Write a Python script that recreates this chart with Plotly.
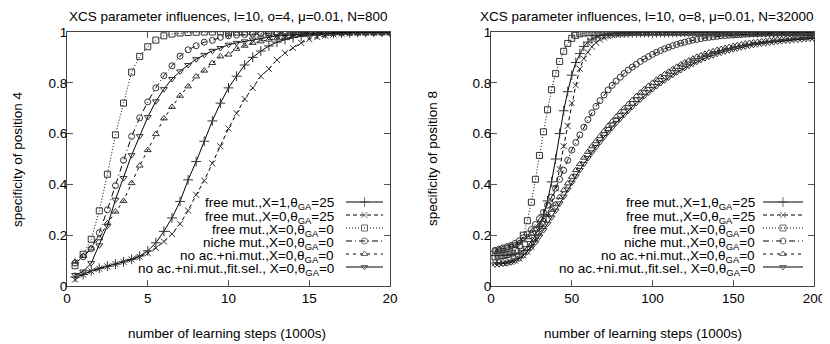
import plotly.graph_objects as go

# ---------------- data ----------------
steps_left = [0.5, 1.0, 1.5, 2.0, 2.5, 3.0, 3.5, 4.0, 4.5, 5.0, 5.5, 6.0, 6.5, 7.0, 7.5, 8.0, 8.5, 9.0, 9.5, 10.0,
              10.5, 11.0, 11.5, 12.0, 12.5, 13.0, 13.5, 14.0, 14.5, 15.0, 15.5, 16.0, 16.5, 17.0, 17.5, 18.0, 18.5, 19.0, 19.5, 20.0]

free_x1_25_L = [0.035, 0.045, 0.06, 0.07, 0.078, 0.086, 0.095, 0.105, 0.118, 0.138, 0.17, 0.215, 0.268, 0.333, 0.418, 0.49, 0.57, 0.65, 0.72, 0.78,
                0.826, 0.87, 0.90, 0.925, 0.945, 0.96, 0.97, 0.978, 0.984, 0.988, 0.991, 0.994, 0.995, 0.996, 0.997, 0.998, 0.998, 0.999, 0.999, 0.999]
free_x0_25_L = [0.025, 0.045, 0.058, 0.068, 0.077, 0.086, 0.095, 0.105, 0.115, 0.13, 0.15, 0.175, 0.205, 0.245, 0.297, 0.359, 0.415, 0.483, 0.55, 0.62,
                0.68, 0.736, 0.78, 0.826, 0.855, 0.89, 0.917, 0.937, 0.957, 0.972, 0.98, 0.985, 0.99, 0.993, 0.995, 0.997, 0.998, 0.998, 0.999, 0.999]
free_x0_0_L = [0.08, 0.125, 0.184, 0.296, 0.44, 0.595, 0.72, 0.842, 0.904, 0.942, 0.968, 0.985, 0.992, 0.996, 0.998, 0.999, 1.0, 1.0, 1.0, 1.0,
               1.0, 1.0, 1.0, 1.0, 1.0, 1.0, 1.0, 1.0, 1.0, 1.0, 1.0, 1.0, 1.0, 1.0, 1.0, 1.0, 1.0, 1.0, 1.0, 1.0]
niche_L = [0.09, 0.115, 0.147, 0.21, 0.30, 0.395, 0.495, 0.589, 0.662, 0.725, 0.78, 0.828, 0.867, 0.905, 0.93, 0.946, 0.96, 0.967, 0.979, 0.985,
           0.988, 0.99, 0.992, 0.994, 0.995, 0.996, 0.997, 0.997, 0.998, 0.998, 0.999, 0.999, 0.999, 0.999, 1.0, 1.0, 1.0, 1.0, 1.0, 1.0]
noac_L = [0.096, 0.118, 0.148, 0.188, 0.247, 0.293, 0.335, 0.405, 0.474, 0.535, 0.598, 0.66, 0.705, 0.749, 0.786, 0.825, 0.848, 0.878, 0.904, 0.911,
          0.934, 0.946, 0.957, 0.963, 0.97, 0.975, 0.98, 0.985, 0.988, 0.99, 0.992, 0.994, 0.995, 0.996, 0.997, 0.998, 0.998, 0.999, 0.999, 0.999]
noac_fit_L = [0.043, 0.057, 0.09, 0.16, 0.237, 0.34, 0.425, 0.515, 0.59, 0.665, 0.727, 0.775, 0.815, 0.845, 0.87, 0.893, 0.91, 0.926, 0.937, 0.95,
              0.957, 0.963, 0.97, 0.975, 0.98, 0.984, 0.987, 0.99, 0.992, 0.994, 0.995, 0.996, 0.997, 0.998, 0.998, 0.999, 0.999, 0.999, 1.0, 1.0]

steps_right = [2.5, 5, 7.5, 10, 12.5, 15, 17.5, 20, 22.5, 25, 27.5, 30, 32.5, 35, 37.5, 40, 42.5, 45, 47.5, 50,
               52.5, 55, 57.5, 60, 62.5, 65, 67.5, 70, 72.5, 75, 77.5, 80, 82.5, 85, 87.5, 90, 92.5, 95, 97.5, 100,
               102.5, 105, 107.5, 110, 112.5, 115, 117.5, 120, 122.5, 125, 127.5, 130, 132.5, 135, 137.5, 140, 142.5, 145, 147.5, 150,
               152.5, 155, 157.5, 160, 162.5, 165, 167.5, 170, 172.5, 175, 177.5, 180, 182.5, 185, 187.5, 190, 192.5, 195, 197.5, 200]

free_x1_25_R = [0.12, 0.12, 0.12, 0.121, 0.122, 0.125, 0.13, 0.14, 0.155, 0.175, 0.2, 0.235, 0.28, 0.335, 0.41, 0.5, 0.6, 0.69, 0.765, 0.83,
                0.88, 0.915, 0.943, 0.96, 0.972, 0.98, 0.986, 0.99, 0.992, 0.994, 0.995, 0.996, 0.996, 0.997, 0.997, 0.997, 0.998, 0.998, 0.998, 0.998,
                0.998, 0.998, 0.998, 0.998, 0.999, 0.999, 0.999, 0.999, 0.999, 0.999, 0.999, 0.999, 0.999, 0.999, 0.999, 0.999, 0.999, 0.999, 0.999, 0.999,
                0.999, 0.999, 0.999, 0.999, 0.999, 0.999, 0.999, 0.999, 0.999, 0.999, 0.999, 0.999, 0.999, 0.999, 0.999, 0.999, 0.999, 0.999, 0.999, 0.999]
free_x0_25_R = [0.09, 0.09, 0.09, 0.092, 0.095, 0.1, 0.108, 0.12, 0.135, 0.155, 0.18, 0.21, 0.24, 0.275, 0.32, 0.385, 0.46, 0.55, 0.63, 0.72,
                0.79, 0.855, 0.895, 0.92, 0.942, 0.958, 0.97, 0.978, 0.984, 0.988, 0.991, 0.993, 0.994, 0.995, 0.996, 0.996, 0.997, 0.997, 0.997, 0.997,
                0.998, 0.998, 0.998, 0.998, 0.998, 0.998, 0.998, 0.998, 0.999, 0.999, 0.999, 0.999, 0.999, 0.999, 0.999, 0.999, 0.999, 0.999, 0.999, 0.999,
                0.999, 0.999, 0.999, 0.999, 0.999, 0.999, 0.999, 0.999, 0.999, 0.999, 0.999, 0.999, 0.999, 0.999, 0.999, 0.999, 0.999, 0.999, 0.999, 0.999]
free_x0_0_R = [0.115, 0.118, 0.12, 0.124, 0.13, 0.14, 0.16, 0.2, 0.257, 0.33, 0.42, 0.514, 0.607, 0.694, 0.773, 0.836, 0.884, 0.924, 0.955, 0.975,
               0.987, 0.993, 0.996, 0.997, 0.998, 0.998, 0.999, 0.999, 0.999, 0.999, 0.999, 0.999, 0.999, 0.999, 1.0, 1.0, 1.0, 1.0, 1.0, 1.0,
               1.0, 1.0, 1.0, 1.0, 1.0, 1.0, 1.0, 1.0, 1.0, 1.0, 1.0, 1.0, 1.0, 1.0, 1.0, 1.0, 1.0, 1.0, 1.0, 1.0,
               1.0, 1.0, 1.0, 1.0, 1.0, 1.0, 1.0, 1.0, 1.0, 1.0, 1.0, 1.0, 1.0, 1.0, 1.0, 1.0, 1.0, 1.0, 1.0, 1.0]
niche_R = [0.14, 0.145, 0.15, 0.155, 0.16, 0.168, 0.178, 0.19, 0.205, 0.222, 0.242, 0.265, 0.29, 0.318, 0.35, 0.385, 0.42, 0.455, 0.495, 0.535,
           0.565, 0.595, 0.625, 0.655, 0.682, 0.707, 0.73, 0.752, 0.772, 0.79, 0.807, 0.822, 0.837, 0.85, 0.862, 0.873, 0.884, 0.894, 0.903, 0.912,
           0.92, 0.927, 0.934, 0.94, 0.946, 0.951, 0.956, 0.96, 0.964, 0.968, 0.971, 0.974, 0.977, 0.979, 0.981, 0.983, 0.985, 0.986, 0.987, 0.988,
           0.989, 0.99, 0.991, 0.992, 0.993, 0.993, 0.994, 0.994, 0.995, 0.995, 0.995, 0.996, 0.996, 0.996, 0.997, 0.997, 0.997, 0.997, 0.998, 0.998]
noac_R = [0.14, 0.143, 0.147, 0.151, 0.156, 0.162, 0.17, 0.18, 0.192, 0.206, 0.222, 0.24, 0.26, 0.28, 0.3, 0.322, 0.35, 0.377, 0.404, 0.43,
          0.456, 0.48, 0.505, 0.528, 0.55, 0.57, 0.59, 0.61, 0.63, 0.648, 0.666, 0.684, 0.7, 0.716, 0.732, 0.747, 0.761, 0.775, 0.788, 0.80,
          0.812, 0.823, 0.834, 0.844, 0.854, 0.863, 0.872, 0.88, 0.888, 0.895, 0.902, 0.908, 0.914, 0.919, 0.924, 0.929, 0.933, 0.937, 0.941, 0.945,
          0.948, 0.951, 0.954, 0.957, 0.959, 0.961, 0.963, 0.965, 0.967, 0.969, 0.97, 0.972, 0.973, 0.975, 0.976, 0.977, 0.978, 0.979, 0.98, 0.981]
noac_fit_R = [0.085, 0.086, 0.088, 0.09, 0.094, 0.1, 0.108, 0.12, 0.135, 0.152, 0.172, 0.195, 0.22, 0.245, 0.27, 0.297, 0.325, 0.352, 0.38, 0.407,
              0.432, 0.457, 0.481, 0.504, 0.526, 0.547, 0.567, 0.587, 0.606, 0.624, 0.642, 0.659, 0.675, 0.691, 0.706, 0.721, 0.735, 0.749, 0.762, 0.775,
              0.787, 0.799, 0.81, 0.821, 0.831, 0.841, 0.85, 0.859, 0.867, 0.875, 0.883, 0.89, 0.897, 0.903, 0.909, 0.914, 0.919, 0.924, 0.928, 0.932,
              0.936, 0.94, 0.943, 0.946, 0.949, 0.952, 0.954, 0.956, 0.958, 0.96, 0.962, 0.964, 0.966, 0.967, 0.969, 0.97, 0.971, 0.973, 0.974, 0.975]

series_names = [
    "free mut.,X=1,θ<sub>GA</sub>=25",
    "free mut.,X=0,θ<sub>GA</sub>=25",
    "free mut.,X=0,θ<sub>GA</sub>=0",
    "niche mut.,X=0,θ<sub>GA</sub>=0",
    "no ac.+ni.mut.,X=0,θ<sub>GA</sub>=0",
    "no ac.+ni.mut.,fit.sel., X=0,θ<sub>GA</sub>=0",
]
left_series = [free_x1_25_L, free_x0_25_L, free_x0_0_L, niche_L, noac_L, noac_fit_L]
right_series = [free_x1_25_R, free_x0_25_R, free_x0_0_R, niche_R, noac_R, noac_fit_R]

titles = ["XCS parameter influences, l=10, o=4, μ=0.01, N=800",
          "XCS parameter influences, l=10, o=8, μ=0.01, N=32000"]
ylabels = ["specificity of position 4", "specificity of position 8"]
xlabel = "number of learning steps (1000s)"
y_ticks = [0, 0.2, 0.4, 0.6, 0.8, 1]
y_ticktext = ["0", "0.2", "0.4", "0.6", "0.8", "1"]
x_ticks_left = [0, 5, 10, 15, 20]
x_ticks_right = [0, 50, 100, 150, 200]

# ---------------- styles / geometry ----------------
styles = [
    dict(dash="solid", symbol="cross-thin-open", size=7),
    dict(dash="4px,3px", symbol="x-thin-open", size=6),
    dict(dash="1px,2px", symbol="square-open", size=6),
    dict(dash="6px,3px,1px,3px", symbol="circle-open", size=6),
    dict(dash="3px,4px", symbol="triangle-up-open", size=6),
    dict(dash="solid", symbol="triangle-down-open", size=6),
]
FONT = "Liberation Sans, Arial, Helvetica, sans-serif"
FS = 13.5
OFF = 8                      # page body margin
W, H = 830 - OFF, 344 - OFF  # figure size so that page pixels match the reference
def px(v):                   # page pixel -> figure pixel
    return v - OFF
PL = (px(67), px(390))
PR = (px(491), px(814))
PT, PB = px(32), px(286)
PWL = PL[1] - PL[0]
PWR = PR[1] - PR[0]

fig = go.Figure()

def add_series(xs, ys_list, xa, ya):
    for ys, st, nm in zip(ys_list, styles, series_names):
        fig.add_trace(go.Scatter(
            x=xs, y=ys, xaxis=xa, yaxis=ya, mode="lines+markers", name=nm, showlegend=False,
            line=dict(color="#000", width=1, dash=st["dash"]),
            marker=dict(symbol=st["symbol"], size=st["size"], color="#333",
                        line=dict(color="#333", width=1)),
            hoverinfo="skip"))

add_series(steps_left, left_series, "x", "y")
add_series(steps_right, right_series, "x2", "y2")

# legend keys (drawn on hidden overlay axes spanning 0..1 of the plot area)
row_px = [px(202 + 13.0 * i) for i in range(6)]
def add_legend(xa, ya, x0, x1, xref, yref, text_x):
    for i, (st, nm) in enumerate(zip(styles, series_names)):
        r = (PB - row_px[i]) / (PB - PT)
        fig.add_trace(go.Scatter(
            x=[x0, (x0 + x1) / 2, x1], y=[r, r, r], xaxis=xa, yaxis=ya,
            mode="lines+markers", showlegend=False, hoverinfo="skip",
            line=dict(color="#000", width=1, dash=st["dash"]),
            marker=dict(symbol=st["symbol"], size=[0, st["size"], 0], color="#333",
                        line=dict(color="#333", width=1))))
        fig.add_annotation(x=text_x, y=r, xref=xref, yref=yref, text=nm, showarrow=False,
                           xanchor="right", yanchor="middle", yshift=-2,
                           font=dict(family=FONT, size=FS, color="#000"))

add_legend("x3", "y3", (px(346) - PL[0]) / PWL, (px(383) - PL[0]) / PWL, "x domain", "y domain",
           (px(336) - PL[0]) / PWL)
add_legend("x4", "y4", (px(763) - PR[0]) / PWR, (px(803) - PR[0]) / PWR, "x2 domain", "y2 domain",
           (px(757) - PR[0]) / PWR)

axis_common = dict(showgrid=False, zeroline=False, showline=True, linecolor="#444", linewidth=1,
                   mirror="allticks", ticks="inside", ticklen=6, tickcolor="#555", tickwidth=1,
                   tickfont=dict(family=FONT, size=FS, color="#000"), automargin=False)
ydom = [(H - PB) / H, (H - PT) / H]
fig.update_layout(
    width=W, height=H, margin=dict(l=0, r=0, t=0, b=0),
    paper_bgcolor="white", plot_bgcolor="white", showlegend=False,
    xaxis=dict(domain=[PL[0] / W, PL[1] / W], range=[0, 20], tickvals=x_ticks_left, anchor="y", **axis_common),
    yaxis=dict(domain=ydom, range=[0, 1], tickvals=y_ticks, ticktext=y_ticktext, anchor="x",
               ticklabelstandoff=-4, **axis_common),
    xaxis2=dict(domain=[PR[0] / W, PR[1] / W], range=[0, 200], tickvals=x_ticks_right, anchor="y2", **axis_common),
    yaxis2=dict(domain=ydom, range=[0, 1], tickvals=y_ticks, ticktext=y_ticktext, anchor="x2",
                ticklabelstandoff=-4, **axis_common),
    xaxis3=dict(overlaying="x", range=[0, 1], visible=False, anchor="y3"),
    yaxis3=dict(overlaying="y", range=[0, 1], visible=False, anchor="x3"),
    xaxis4=dict(overlaying="x2", range=[0, 1], visible=False, anchor="y4"),
    yaxis4=dict(overlaying="y2", range=[0, 1], visible=False, anchor="x4"),
)

# titles and axis labels
def ann(xp, yp, text, angle=0):
    fig.add_annotation(x=px(xp) / W, y=(H - px(yp)) / H, xref="paper", yref="paper", text=text,
                       showarrow=False, textangle=angle, xanchor="center", yanchor="middle",
                       font=dict(family=FONT, size=FS, color="#000"))

ann(228.5, 16, titles[0])
ann(647, 16, titles[1])
ann(227.5, 333, xlabel)
ann(643, 333, xlabel)
ann(17, 159, ylabels[0], -90)
ann(432, 159, ylabels[1], -90)

fig.write_html("out.html")
